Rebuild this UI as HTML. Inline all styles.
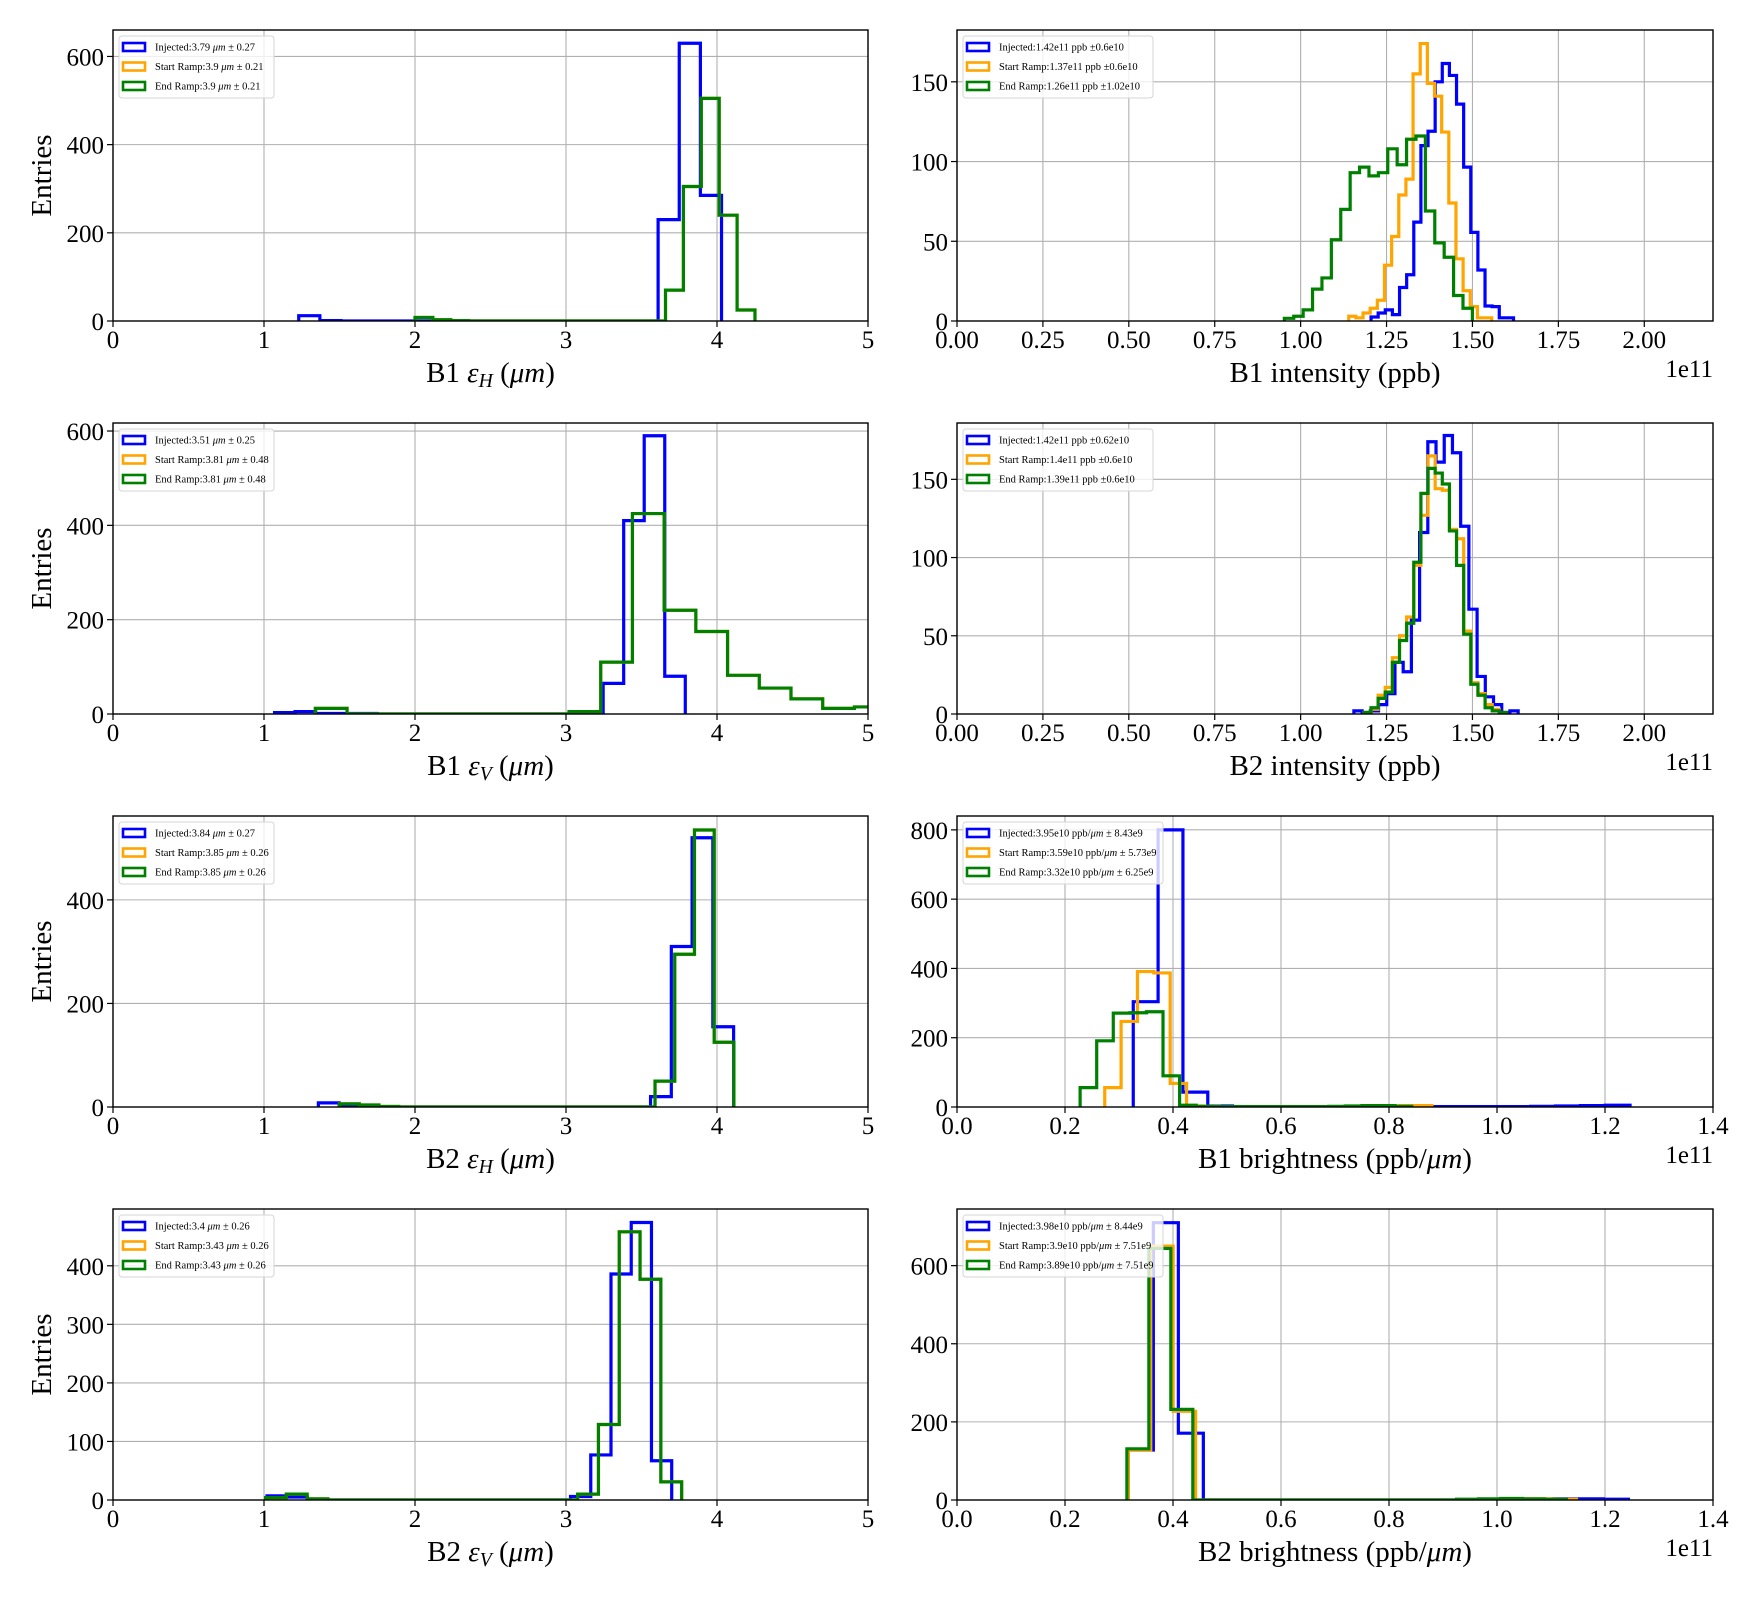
<!DOCTYPE html>
<html><head><meta charset="utf-8">
<style>
html,body{margin:0;padding:0;background:#fff;}
svg{display:block;font-family:"Liberation Serif","DejaVu Serif",serif;}
</style></head>
<body>
<svg id="fig" width="1760" height="1600" viewBox="0 0 1760 1600" xmlns="http://www.w3.org/2000/svg"></svg>
<script>
// ---------- data ----------
const p1BlueStart=1.23, p1BlueWidth=0.14;
const p1BlueCounts=[12,1,0,0,0,0,0,0,0,0,0,0,0,0,0,0,0,230,630,285];
const p1GreenStart=2.0, p1GreenWidth=0.1185;
const p1GreenCounts=[8,3,1,0,0,0,0,0,0,0,0,0,0,0,70,305,505,240,25];
const p2BlueStart=1.07, p2BlueWidth=0.136;
const p2BlueCounts=[3,5,1,1,1,0,0,0,0,0,0,0,0,0,0,1,65,410,590,80];
const p2GreenStart=1.34, p2GreenWidth=0.21;
const p2GreenCounts=[12,0,0,0,0,0,0,0,5,110,425,220,175,82,55,32,12,15];
const p3BlueStart=1.36, p3BlueWidth=0.1375;
const p3BlueCounts=[8,3,0,0,0,0,0,0,0,0,0,0,0,0,0,0,20,310,520,155];
const p3GreenStart=1.5, p3GreenWidth=0.1306;
const p3GreenCounts=[6,4,1,0,0,0,0,0,0,0,0,0,0,0,0,0,50,295,535,125];
const p4BlueStart=1.02, p4BlueWidth=0.134;
const p4BlueCounts=[7,5,1,0,0,0,0,0,0,0,0,0,0,0,0,6,77,386,474,67];
const p4GreenStart=1.01, p4GreenWidth=0.1378;
const p4GreenCounts=[4,10,2,0,0,0,0,0,0,0,0,0,0,0,0,10,129,458,377,31];
const p5BlueStart=1.2049, p5BlueWidth=0.02073;
const p5BlueCounts=[2.5,5,7,4,21,29,62,110,119,150,161.5,154,136,96.5,55.6,32,9.4,9,2,2];
const p5OrangeStart=1.140, p5OrangeWidth=0.0208;
const p5OrangeCounts=[3,2,5,8,13,35,53,79,89,155,174,149,141,118.5,74,39,19,9,2,2];
const p5GreenStart=0.9526, p5GreenWidth=0.02736;
const p5GreenCounts=[1.7,3,7,20,27,51,70,93,96.5,91,93,108,98,114,116,69,49,40,16,8];
const p6BlueStart=1.155, p6BlueWidth=0.0239;
const p6BlueCounts=[2,1,2,6,13,33,27,60,116,174,161,178,167,120,67,24,11,6,1,2];
const p6OrangeStart=1.184, p6OrangeWidth=0.02075;
const p6OrangeCounts=[1,3,12,17,36,50,62,95,127,165,144,143,118,112,53,20,13,6,3,1];
const p6GreenStart=1.184, p6GreenWidth=0.02075;
const p6GreenCounts=[1,4,10,14,33,47,58,97,141,157,154,147,117,95,51,19,12,4,2,1];
const p7BlueStart=0.3264, p7BlueWidth=0.046;
const p7BlueCounts=[304,800,43,3,1,1,1,1,1,1,1,1,1,1,1,1,2,3,4,5];
const p7OrangeStart=0.2736, p7OrangeWidth=0.0303;
const p7OrangeCounts=[56,247,391,387,68,3,2,1,1,1,1,1,1,1,1,1,2,3,4,4];
const p7GreenStart=0.228, p7GreenWidth=0.0307;
const p7GreenCounts=[56,191,271,272,275,90,5,2,1,1,1,1,1,1,1,2,3,4,4,2];
const p8BlueStart=0.3173, p8BlueWidth=0.0463;
const p8BlueCounts=[128,710,171,0,0,0,0,0,0,0,0,0,0,0,1,1,2,3,3,2];
const p8OrangeStart=0.3173, p8OrangeWidth=0.0415;
const p8OrangeCounts=[128,650,227,0,0,0,0,0,0,0,0,0,0,0,0,1,2,3,3,2];
const p8GreenStart=0.3146, p8GreenWidth=0.0407;
const p8GreenCounts=[131,644,232,0,0,0,0,0,0,0,0,0,0,0,0,2,3,4,3,2];

const emitTicks=[0,1,2,3,4,5];
const emitTickLabels=["0","1","2","3","4","5"];
const intTicks=[0,0.25,0.5,0.75,1.0,1.25,1.5,1.75,2.0];
const intTickLabels=["0.00","0.25","0.50","0.75","1.00","1.25","1.50","1.75","2.00"];
const brTicks=[0,0.2,0.4,0.6,0.8,1.0,1.2,1.4];
const brTickLabels=["0.0","0.2","0.4","0.6","0.8","1.0","1.2","1.4"];
const yTicks600=[0,200,400,600];
const yTicks400=[0,200,400];
const yTicks400b=[0,100,200,300,400];
const yTicks150=[0,50,100,150];
const yTicks800=[0,200,400,600,800];

const NS="http://www.w3.org/2000/svg";
const svg=document.getElementById('fig');
function mk(tag,attrs,parent){const e=document.createElementNS(NS,tag);for(const k in attrs)e.setAttribute(k,attrs[k]);(parent||svg).appendChild(e);return e;}
const COL={blue:"#0000ff",orange:"#ffa500",green:"#008000"};
let clipId=0;

function addRich(textEl,parts){
  parts.forEach(p=>{const t=document.createElementNS(NS,'tspan');
    if(p.i)t.setAttribute('font-style','italic');
    if(p.sub){t.setAttribute('dy','5');t.setAttribute('font-size','0.68em');}
    if(p.unsub){t.setAttribute('dy','-5');}
    t.textContent=p.t;textEl.appendChild(t);});
}

function panel(c){
  const g=mk('g',{});
  
  
  const sx=v=>c.x+(v-c.xmin)/(c.xmax-c.xmin)*c.w;
  const sy=v=>c.y+c.h-(v-c.ymin)/(c.ymax-c.ymin)*c.h;
  c.xticks.forEach(v=>{const l=mk('line',{x1:sx(v),x2:sx(v),y1:c.y,y2:c.y+c.h,stroke:"#b0b0b0","stroke-width":1.1},g);
    });
  c.yticks.forEach(v=>{const l=mk('line',{x1:c.x,x2:c.x+c.w,y1:sy(v),y2:sy(v),stroke:"#b0b0b0","stroke-width":1.1},g);
    });
  const cid='clip'+(clipId++);
  const cp=mk('clipPath',{id:cid},g);mk('rect',{x:c.x,y:c.y-2,width:c.w,height:c.h+2},cp);
  const sg=mk('g',{'clip-path':'url(#'+cid+')'},g);
  c.series.forEach(s=>{
    let d='M'+sx(s.start)+','+sy(0);
    s.counts.forEach((n,i)=>{const x0=sx(s.start+i*s.width),x1=sx(s.start+(i+1)*s.width);
      d+=' L'+x0+','+sy(n)+' L'+x1+','+sy(n);});
    d+=' L'+sx(s.start+s.counts.length*s.width)+','+sy(0);
    const p=mk('path',{d:d,fill:'none',stroke:COL[s.color],'stroke-width':3.2,'stroke-linejoin':'miter'},sg);
    
    
  });
  const fr=mk('rect',{x:c.x,y:c.y,width:c.w,height:c.h,fill:'none',stroke:'#000','stroke-width':1.4},g);
  
  c.xticks.forEach((v,i)=>{mk('line',{x1:sx(v),x2:sx(v),y1:c.y+c.h,y2:c.y+c.h+6,stroke:'#000','stroke-width':1.2},g);
    const t=mk('text',{x:sx(v),y:c.y+c.h+27,'text-anchor':'middle','font-size':25},g);t.textContent=c.xlabels[i];
    });
  c.yticks.forEach(v=>{mk('line',{x1:c.x-6,x2:c.x,y1:sy(v),y2:sy(v),stroke:'#000','stroke-width':1.2},g);
    const t=mk('text',{x:c.x-9,y:sy(v)+9,'text-anchor':'end','font-size':25},g);t.textContent=String(v);
    });
  const xl=mk('text',{x:c.x+c.w/2,y:c.y+c.h+61,'text-anchor':'middle','font-size':29},g);
  addRich(xl,c.xlabel);
  
  if(c.offset){const o=mk('text',{x:c.x+c.w,y:c.y+c.h+56,'text-anchor':'end','font-size':25},g);o.textContent=c.offset;
    }
  if(c.ylabel){const yl=mk('text',{x:0,y:0,'text-anchor':'middle','font-size':29,transform:'translate(51,'+(c.y+c.h/2)+') rotate(-90)'},g);
    yl.textContent='Entries';}
  const lg=mk('g',{},g);
  const lx=c.x+6,ly=c.y+6;
  mk('rect',{x:lx,y:ly,width:c.legW,height:62,rx:3,fill:'#fff','fill-opacity':0.8,stroke:'#d6d6d6','stroke-width':1},lg);
  const cols=['blue','orange','green'];
  c.legend.forEach((parts,i)=>{
    const yy=ly+11+i*19.5;
    mk('rect',{x:lx+4,y:yy-4,width:22,height:8,fill:'none',stroke:COL[cols[i]],'stroke-width':2.6},lg);
    const t=mk('text',{x:lx+36,y:yy+3.5,'font-size':10.5},lg);addRich(t,parts);
    
  });
}

const rows=[30,423,816,1209], H=291, LX=113, LW=755, RX=957, RW=756;
const epsLabel=(b,s)=>[{t:b+' '},{t:'ε',i:1},{t:s,i:1,sub:1},{t:' (',unsub:1},{t:'μm',i:1},{t:')'}];

function leftPanel(r,name,ymax,yt,bs,bw,bc,gs,gw,gc,lab,leg){
  panel({name:name,x:LX,y:rows[r],w:LW,h:H,xmin:0,xmax:5,ymin:0,ymax:ymax,xticks:emitTicks,xlabels:emitTickLabels,yticks:yt,
    xlabel:lab,ylabel:true,legW:155,legend:leg,
    series:[{color:'blue',start:bs,width:bw,counts:bc},{color:'orange',start:gs,width:gw,counts:gc},{color:'green',start:gs,width:gw,counts:gc}]});
}
leftPanel(0,'b1-emittance-h-panel',660,yTicks600,p1BlueStart,p1BlueWidth,p1BlueCounts,p1GreenStart,p1GreenWidth,p1GreenCounts,epsLabel('B1','H'),
  [[{t:'Injected:3.79 '},{t:'μm',i:1},{t:' ± 0.27'}],[{t:'Start Ramp:3.9 '},{t:'μm',i:1},{t:' ± 0.21'}],[{t:'End Ramp:3.9 '},{t:'μm',i:1},{t:' ± 0.21'}]]);
leftPanel(1,'b1-emittance-v-panel',617,yTicks600,p2BlueStart,p2BlueWidth,p2BlueCounts,p2GreenStart,p2GreenWidth,p2GreenCounts,epsLabel('B1','V'),
  [[{t:'Injected:3.51 '},{t:'μm',i:1},{t:' ± 0.25'}],[{t:'Start Ramp:3.81 '},{t:'μm',i:1},{t:' ± 0.48'}],[{t:'End Ramp:3.81 '},{t:'μm',i:1},{t:' ± 0.48'}]]);
leftPanel(2,'b2-emittance-h-panel',562,yTicks400,p3BlueStart,p3BlueWidth,p3BlueCounts,p3GreenStart,p3GreenWidth,p3GreenCounts,epsLabel('B2','H'),
  [[{t:'Injected:3.84 '},{t:'μm',i:1},{t:' ± 0.27'}],[{t:'Start Ramp:3.85 '},{t:'μm',i:1},{t:' ± 0.26'}],[{t:'End Ramp:3.85 '},{t:'μm',i:1},{t:' ± 0.26'}]]);
leftPanel(3,'b2-emittance-v-panel',497,yTicks400b,p4BlueStart,p4BlueWidth,p4BlueCounts,p4GreenStart,p4GreenWidth,p4GreenCounts,epsLabel('B2','V'),
  [[{t:'Injected:3.4 '},{t:'μm',i:1},{t:' ± 0.26'}],[{t:'Start Ramp:3.43 '},{t:'μm',i:1},{t:' ± 0.26'}],[{t:'End Ramp:3.43 '},{t:'μm',i:1},{t:' ± 0.26'}]]);

function rightPanel(r,name,xmax,xt,xl,ymax,yt,sers,lab,leg,legW){
  panel({name:name,x:RX,y:rows[r],w:RW,h:H,xmin:0,xmax:xmax,ymin:0,ymax:ymax,xticks:xt,xlabels:xl,yticks:yt,
    xlabel:lab,ylabel:false,offset:'1e11',legW:legW,legend:leg,series:sers});
}
rightPanel(0,'b1-intensity-panel',2.2,intTicks,intTickLabels,182.5,yTicks150,
  [{color:'blue',start:p5BlueStart,width:p5BlueWidth,counts:p5BlueCounts},{color:'orange',start:p5OrangeStart,width:p5OrangeWidth,counts:p5OrangeCounts},{color:'green',start:p5GreenStart,width:p5GreenWidth,counts:p5GreenCounts}],
  [{t:'B1 intensity (ppb)'}],
  [[{t:'Injected:1.42e11 ppb ±0.6e10'}],[{t:'Start Ramp:1.37e11 ppb ±0.6e10'}],[{t:'End Ramp:1.26e11 ppb ±1.02e10'}]],190);
rightPanel(1,'b2-intensity-panel',2.2,intTicks,intTickLabels,186,yTicks150,
  [{color:'blue',start:p6BlueStart,width:p6BlueWidth,counts:p6BlueCounts},{color:'orange',start:p6OrangeStart,width:p6OrangeWidth,counts:p6OrangeCounts},{color:'green',start:p6GreenStart,width:p6GreenWidth,counts:p6GreenCounts}],
  [{t:'B2 intensity (ppb)'}],
  [[{t:'Injected:1.42e11 ppb ±0.62e10'}],[{t:'Start Ramp:1.4e11 ppb ±0.6e10'}],[{t:'End Ramp:1.39e11 ppb ±0.6e10'}]],190);
rightPanel(2,'b1-brightness-panel',1.4,brTicks,brTickLabels,840,yTicks800,
  [{color:'blue',start:p7BlueStart,width:p7BlueWidth,counts:p7BlueCounts},{color:'orange',start:p7OrangeStart,width:p7OrangeWidth,counts:p7OrangeCounts},{color:'green',start:p7GreenStart,width:p7GreenWidth,counts:p7GreenCounts}],
  [{t:'B1 brightness (ppb/'},{t:'μm',i:1},{t:')'}],
  [[{t:'Injected:3.95e10 ppb/'},{t:'μm',i:1},{t:' ± 8.43e9'}],[{t:'Start Ramp:3.59e10 ppb/'},{t:'μm',i:1},{t:' ± 5.73e9'}],[{t:'End Ramp:3.32e10 ppb/'},{t:'μm',i:1},{t:' ± 6.25e9'}]],200);
rightPanel(3,'b2-brightness-panel',1.4,brTicks,brTickLabels,745,yTicks600,
  [{color:'blue',start:p8BlueStart,width:p8BlueWidth,counts:p8BlueCounts},{color:'orange',start:p8OrangeStart,width:p8OrangeWidth,counts:p8OrangeCounts},{color:'green',start:p8GreenStart,width:p8GreenWidth,counts:p8GreenCounts}],
  [{t:'B2 brightness (ppb/'},{t:'μm',i:1},{t:')'}],
  [[{t:'Injected:3.98e10 ppb/'},{t:'μm',i:1},{t:' ± 8.44e9'}],[{t:'Start Ramp:3.9e10 ppb/'},{t:'μm',i:1},{t:' ± 7.51e9'}],[{t:'End Ramp:3.89e10 ppb/'},{t:'μm',i:1},{t:' ± 7.51e9'}]],200);
</script>
</body></html>
